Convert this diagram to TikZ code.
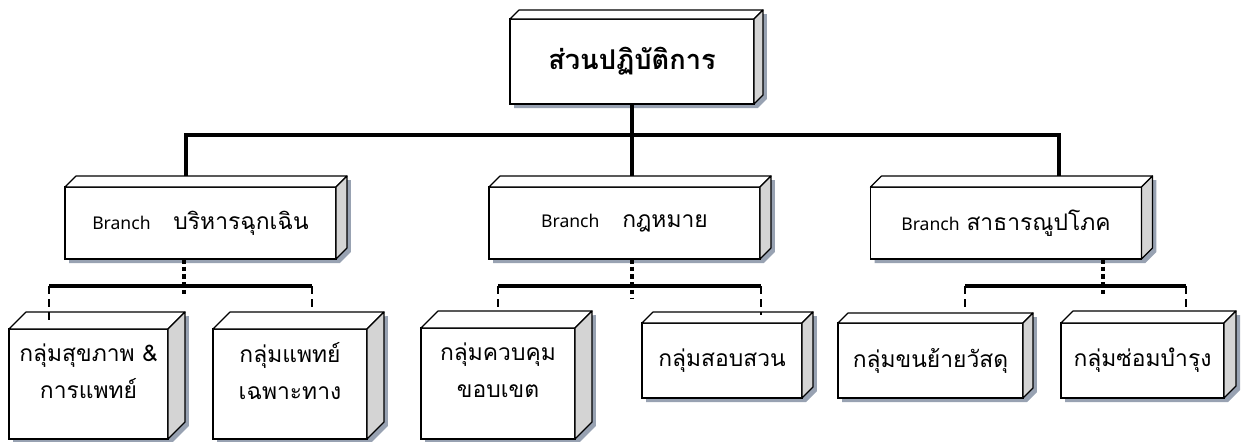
\documentclass[tikz,border=0pt]{standalone}
\usepackage{fontspec}
\setmainfont{Noto Sans}
\newfontfamily\thai[Script=Thai]{Loma}
\usetikzlibrary{calc, positioning, backgrounds}
\definecolor{sidegray}{RGB}{212,212,212}
\definecolor{shadowgray}{RGB}{152,162,178}
\newcommand{\brn}{{\normalfont\fontsize{10}{12}\selectfont Branch}}
% depth faces and shadow of a box node: #1 name, #2 depth
\newcommand{\boxfaces}[2]{%
\begin{scope}[on background layer]
\fill[shadowgray] ($(#1.south west)+(4,4)$) -- ($(#1.south east)+(4,4)$) -- ($(#1.south east)+(#2+4,-#2+4)$) -- ($(#1.north east)+(#2+4,-#2+4)$) -- ($(#1.north west)+(4,4)$) -- cycle;
\end{scope}
\filldraw[fill=white,line width=0.7pt,line join=round] (#1.north west) -- ($(#1.north west)+(#2,-#2)$) -- ($(#1.north east)+(#2,-#2)$) -- (#1.north east) -- cycle;
\filldraw[fill=sidegray,line width=0.7pt,line join=round] (#1.north east) -- ($(#1.north east)+(#2,-#2)$) -- ($(#1.south east)+(#2,-#2)$) -- (#1.south east) -- cycle;
}
\tikzset{
unit/.style={draw, fill=white, line width=0.7pt, outer sep=0pt, inner sep=2pt, align=center, font=\thai\fontsize{13}{21}\selectfont},
branchbox/.style={minimum width=5.42cm, minimum height=1.44cm},
bus/.style={line width=2.2pt},
dotline/.style={line width=2pt, dash pattern=on 2.6pt off 1.8pt},
tick/.style={line width=1.4pt, dash pattern=on 4.5pt off 3pt}
}

\begin{document}
\begin{tikzpicture}[x=0.02cm, y=-0.02cm]
\useasboundingbox (0,0) rectangle (1250,441);

% top unit
\node[unit, minimum width=4.88cm, minimum height=1.70cm, font=\thai\bfseries\fontsize{15.5}{20}\selectfont] (top) at (632,61.5) {ส่วนปฏิบัติการ};
\boxfaces{top}{9}

% branches
\node[unit, branchbox] (b1) at (200.5,223) {\brn\hspace{1em}บริหารฉุกเฉิน};
\node[unit, branchbox] (b2) at (624.5,223) {\brn\hspace{1em}กฎหมาย};
\node[unit, branchbox] (b3) at (1006,223) {\brn\hspace{0.3em}สาธารณูปโภค};
\foreach \b in {b1,b2,b3} {\boxfaces{\b}{11}}

\coordinate (t1) at (186,176);
\coordinate (t2) at (632,176);
\coordinate (t3) at (1059,176);
\coordinate (hub) at (632,135);
\draw[bus] (top.south) -- (t2);
\draw[bus] (t1) |- (hub) -| (t3);

% groups
\node[unit, minimum width=3.18cm, minimum height=2.20cm] (s1) at (88.5,384) {กลุ่มสุขภาพ \&\\การแพทย์\\[-6pt]};
\node[unit, minimum width=3.08cm, minimum height=2.20cm] (s2) at (290,384) {กลุ่มแพทย์\\เฉพาะทาง\\[-6pt]};
\node[unit, minimum width=3.08cm, minimum height=2.22cm] (s3) at (498,383.5) {กลุ่มควบคุม\\ขอบเขต\\[-6pt]};
\node[unit, minimum width=3.20cm, minimum height=1.50cm] (s4) at (722,360.5) {กลุ่มสอบสวน};
\node[unit, minimum width=3.70cm, minimum height=1.50cm] (s5) at (930.5,360.5) {กลุ่มขนย้ายวัสดุ};
\node[unit, minimum width=3.26cm, minimum height=1.50cm] (s6) at (1142.5,360.5) {กลุ่มซ่อมบำรุง};
\boxfaces{s1}{17}
\boxfaces{s2}{17}
\boxfaces{s3}{17}
\boxfaces{s4}{11}
\boxfaces{s5}{10}
\boxfaces{s6}{12}

% branch 1 links
\coordinate (g1) at (184,297);
\coordinate (g1l) at (49,286);
\coordinate (g1r) at (312,286);
\draw[dotline] (b1.south -| g1) -- (g1);
\draw[bus] (g1l) -- (g1r);
\draw[tick] (g1l) -- (49,320);
\draw[tick] (g1r) -- (312,310);

% branch 2 links
\coordinate (g2) at (632,298);
\coordinate (g2l) at (498,286);
\coordinate (g2r) at (761,286);
\draw[dotline] (b2.south -| g2) -- (g2);
\draw[bus] (g2l) -- (g2r);
\draw[tick] (g2l) -- (498,310);
\draw[tick] (g2r) -- (761,315);

% branch 3 links
\coordinate (g3) at (1103,297);
\coordinate (g3l) at (965,286);
\coordinate (g3r) at (1186,286);
\draw[dotline] (b3.south -| g3) -- (g3);
\draw[bus] (g3l) -- (g3r);
\draw[tick] (g3l) -- (965,310);
\draw[tick] (g3r) -- (1186,312);
\end{tikzpicture}
\end{document}
